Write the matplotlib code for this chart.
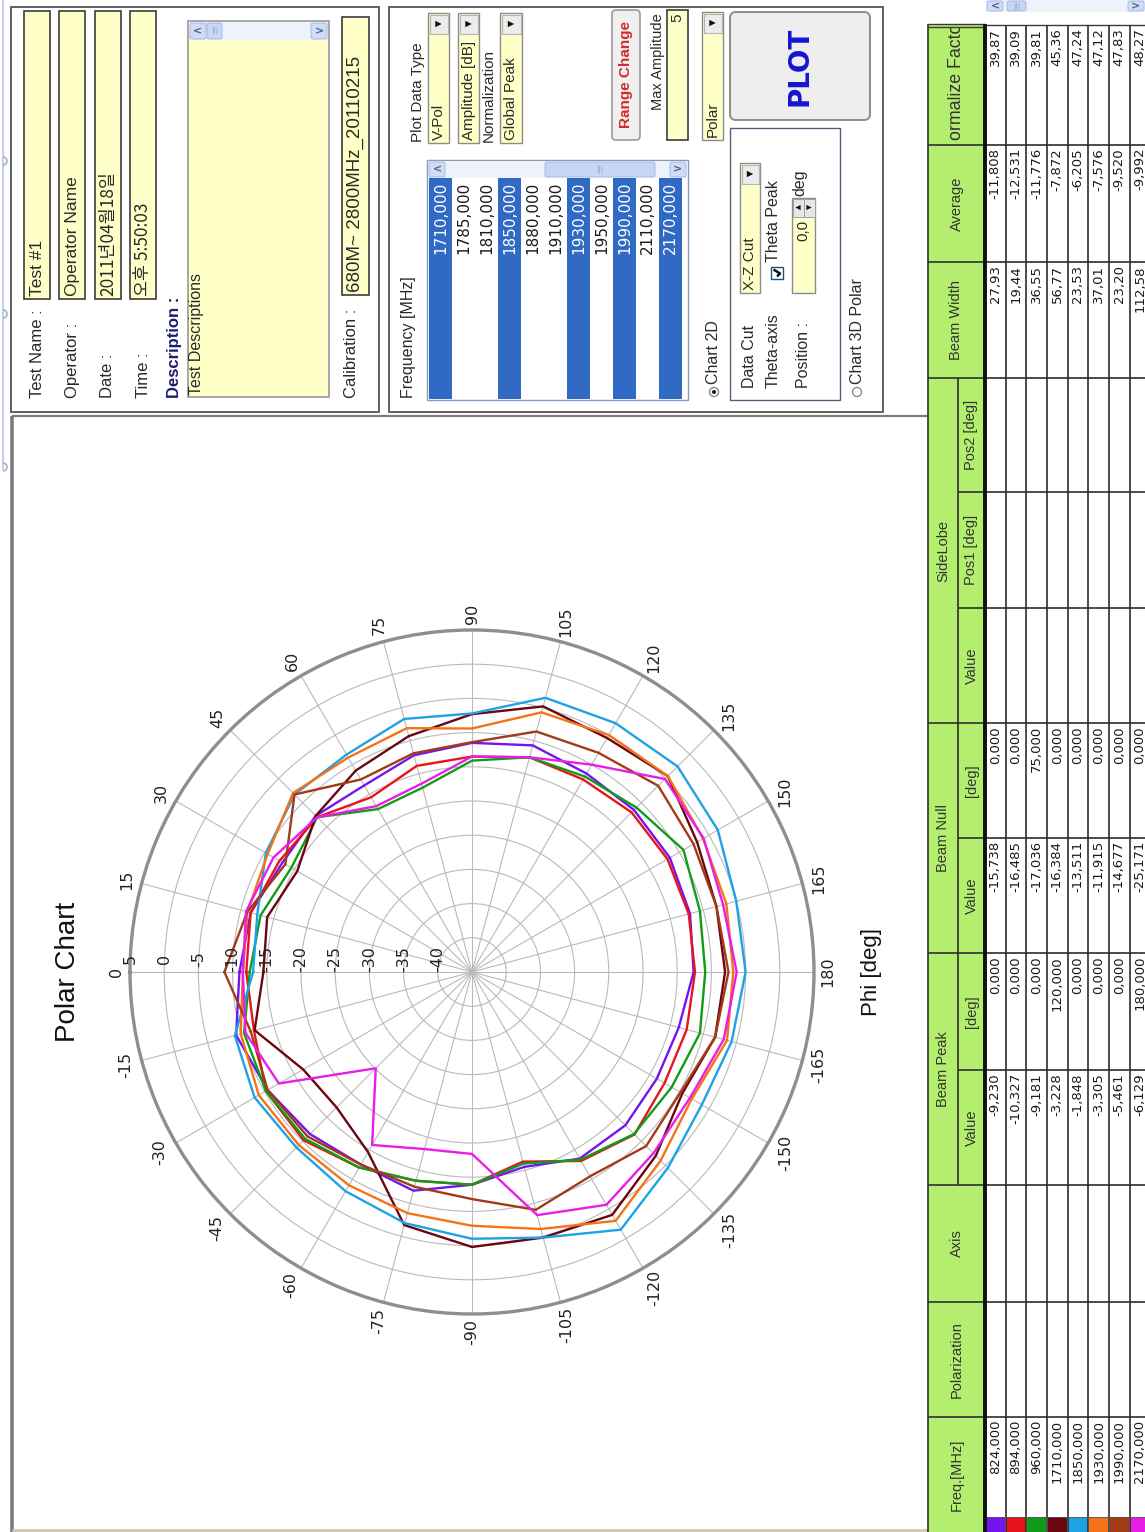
import numpy as np
import matplotlib.pyplot as plt
from matplotlib.patches import Rectangle, FancyBboxPatch, Circle, Polygon
from matplotlib.transforms import offset_copy, Bbox, TransformedBbox

# phi cut (deg) and the normalised amplitude of every frequency [dB]
angles = [0, 15, 30, 45, 60, 75, 90, 105, 120, 135, 150, 165, 180,
          -165, -150, -135, -120, -105, -90, -75, -60, -45, -30, -15]

amp_824 = [-11, -11.5, -13, -12.7, -13.5, -12.2, -11.5, -10.7, -11.5, -11.5, -11.6, -12, -12.6,
           -13.7, -13.8, -13.3, -13.5, -15.5, -13.9, -11.9, -12.5, -11.5, -10.5, -9.3]
amp_894 = [-12, -11.5, -12.5, -13, -15.5, -13.8, -13.5, -12.5, -12.5, -12, -12, -12.2, -12.4,
           -12.5, -12.5, -11.4, -13.1, -16.3, -13.9, -13.4, -12, -10.2, -10.2, -12]
amp_960 = [-12.5, -13, -14.5, -13, -17.5, -17.1, -14.1, -12.5, -12, -11, -9.3, -10.5, -10.9,
           -10.5, -11.3, -11.5, -13.3, -16, -13.9, -13.4, -12, -10.5, -10.2, -10.5]
amp_1710 = [-14.5, -14, -15.5, -12.7, -11, -9.3, -7.3, -4.8, -5.5, -4.5, -7, -8, -8,
            -8.2, -9.5, -7, -4, -4.8, -4.8, -6.7, -14.6, -17, -16.5, -12.1]
amp_1850 = [-13, -12.5, -10.2, -8.3, -8.3, -6.7, -7.2, -3.5, -3, -2.5, -3.5, -5, -5,
            -5.7, -6.2, -4.5, -1.5, -4.8, -6, -7, -8, -8.7, -8.3, -9.1]
amp_1930 = [-11.5, -11, -10.5, -8, -8.8, -8.1, -9.4, -5.7, -5, -4.5, -6, -6.5, -6.8,
            -6.4, -7.9, -6, -3, -6.1, -7.9, -8.5, -9, -9.2, -9, -10]
amp_1990 = [-8.8, -11, -13.5, -8.3, -12.5, -11.9, -11.4, -8.6, -8, -6.5, -7.6, -8, -7.5,
            -8.2, -9.8, -9, -10.5, -9, -11.8, -12.5, -12.5, -11, -10.5, -11.5]
amp_2170 = [-11.5, -10.8, -11.5, -13, -17, -16.5, -13.5, -12.5, -10, -5.1, -5.9, -7, -6.3,
            -6.9, -8.2, -7.5, -5.7, -8.2, -18.4, -18.2, -15.8, -25.1, -12.4, -10.7]

series = [amp_824, amp_894, amp_960, amp_1710, amp_1850, amp_1930, amp_1990, amp_2170]
colors = ['#7414f0', '#e8141c', '#109c18', '#6a0610', '#1ea2e6', '#f57218', '#a23a16', '#e81ee6']

r_ticks = [5, 0, -5, -10, -15, -20, -25, -30, -35, -40]

# result table
table_freq = [824, 894, 960, 1710, 1850, 1930, 1990, 2170]
peak_val = [-9.230, -10.327, -9.181, -3.228, -1.848, -3.305, -5.461, -6.129]
peak_deg = [0, 0, 0, 120, 0, 0, 0, 180]
null_val = [-15.738, -16.485, -17.036, -16.384, -13.511, -11.915, -14.677, -25.171]
null_deg = [0, 0, 75, 0, 0, 0, 0, 0]
beam_width = [27.93, 19.44, 36.55, 56.77, 23.53, 37.01, 23.20, 112.58]
average = [-11.808, -12.531, -11.776, -7.872, -6.205, -7.576, -9.520, -9.992]
norm_factor = [39.87, 39.09, 39.81, 45.36, 47.24, 47.12, 47.83, 48.27]

# frequency list box
list_freq = [1710, 1785, 1810, 1850, 1880, 1910, 1930, 1950, 1990, 2110, 2170]
list_sel = [1710, 1850, 1930, 1990, 2170]

W, H = 1145, 1532
NARROW = ['Liberation Sans Narrow', 'DejaVu Sans']
SANS = ['Liberation Sans', 'DejaVu Sans']
KR = ['Noto Sans CJK KR', 'DejaVu Sans']
YEL = '#ffffc8'
GREEN = '#b4ee6e'

fig = plt.figure(figsize=(W / 100, H / 100), dpi=100)
bg = fig.add_axes([0, 0, 1, 1])
bg.set_xlim(0, W)
bg.set_ylim(H, 0)
bg.set_autoscale_on(False)
bg.axis('off')


def comma(v, d):
    return f'{v:.{d}f}'.replace('.', ',')


def rect(x0, y0, x1, y1, fc='none', ec='#5a5a5a', lw=1.0, z=1):
    p = Rectangle((x0, y0), x1 - x0, y1 - y0, facecolor=fc, edgecolor=ec, linewidth=lw, zorder=z)
    bg.add_patch(p)
    return p


def rbox(x0, y0, x1, y1, fc, ec, lw=1.0, rs=5, z=1):
    bg.add_patch(FancyBboxPatch((x0, y0), x1 - x0, y1 - y0, boxstyle=f'round,pad=0,rounding_size={rs}',
                                facecolor=fc, edgecolor=ec, linewidth=lw, zorder=z))


def vtext(x, y, s, ha='left', size=10, family=SANS, color='#2a2a2a', weight='normal', z=6):
    return bg.text(x, y, s, rotation=90, rotation_mode='anchor', ha=ha, va='center',
                   fontsize=size, family=family, color=color, fontweight=weight, zorder=z)


def line(xs, ys, color='#5a5a5a', lw=1.0, z=3):
    bg.plot(xs, ys, color=color, lw=lw, zorder=z, solid_capstyle='butt')


def tri(cx, cy, right=True, s=3.2, z=5):
    d = s if right else -s
    bg.add_patch(Polygon([(cx - d, cy - s), (cx - d, cy + s), (cx + d, cy)], closed=True,
                         facecolor='#111111', edgecolor='none', zorder=z))


def dropdown(x0, x1, y0, y1, s, size=11):
    rect(x0, y0, x1, y1, fc=YEL, ec='#8c8c8c', lw=1.0)
    rect(x0 + 1.5, y0 + 1.5, x1 - 1.5, y0 + 21, fc='#ececec', ec='#b4b4b4', lw=0.8, z=2)
    tri((x0 + x1) / 2, y0 + 11)
    vtext((x0 + x1) / 2, y1 - 3, s, size=size)


def scrollbar_h(x0, x1, y0, y1, t0, t1):
    rect(x0, y0, x1, y1, fc='#eef2fb', ec='none', z=2)
    rbox(t0, y0 + 1, t1, y1 - 1, fc='#c6d6f6', ec='#9fb6e0', lw=0.6, rs=2, z=3)
    rbox(x0 + 1, y0 + 1, x0 + 17, y1 - 1, fc='#cfdcf4', ec='#9fb6e0', lw=0.6, rs=2, z=3)
    rbox(x1 - 17, y0 + 1, x1 - 1, y1 - 1, fc='#cfdcf4', ec='#9fb6e0', lw=0.6, rs=2, z=3)
    ym = (y0 + y1) / 2
    bg.text(x0 + 9, ym, '<', ha='center', va='center', fontsize=8, color='#4d6185', weight='bold', zorder=4)
    bg.text(x1 - 9, ym, '>', ha='center', va='center', fontsize=8, color='#4d6185', weight='bold', zorder=4)
    bg.text((t0 + t1) / 2, ym, '|||', ha='center', va='center', fontsize=5, color='#8da2c8', zorder=4)


# ---------------- window edge / frames ----------------
line([3, 3], [0, 470], color='#c3cfe0', lw=1.5)
for ty in [161, 314, 467]:
    a = np.linspace(-np.pi / 2, np.pi / 2, 12)
    line(3 + 4 * np.cos(a), ty + 4 * np.sin(a), color='#9fb0c8', lw=1.2)

rect(11, 7, 379, 412, ec='#606060', lw=1.4)
rect(389, 7, 883, 412, ec='#606060', lw=1.4)
line([12, 12], [416, 1532], color='#7c7c7c', lw=2.6)
line([12, 928], [416, 416], color='#7c7c7c', lw=1.6)
line([12, 928], [1530, 1530], color='#cfc9b6', lw=2.0)

# ---------------- info panel ----------------
field_x = [37, 72, 108, 143]
field_lab = ['Test Name :', 'Operator :', 'Date :', 'Time :']
field_val = ['Test #1', 'Operator Name', '2011년04월18일', '오후 5:50:03']
for fx, lab, val in zip(field_x, field_lab, field_val):
    vtext(fx, 398, lab, size=12)
    rect(fx - 13, 11, fx + 13, 299, fc=YEL, ec='#3c3c3c', lw=1.2)
    fam = KR if any(ord(ch) > 0x3000 for ch in val) else SANS
    vtext(fx, 296, val, size=12.5, family=fam)

vtext(174, 398, 'Description :', size=12, weight='bold', color='#1e1e6e')
rect(188, 21, 329, 397, fc=YEL, ec='#9a9a9a', lw=1.2)
scrollbar_h(189, 328, 22, 40, 207, 222)
vtext(196, 395, 'Test Descriptions', size=11.5)
vtext(352, 398, 'Calibration :', size=12)
rect(342, 17, 369, 295, fc=YEL, ec='#3c3c3c', lw=1.2)
vtext(355.5, 292, '680M~ 2800MHz_20110215', size=13.5)

# ---------------- plot settings panel ----------------
vtext(418, 142, 'Plot Data Type', size=11)
dropdown(428, 449, 13, 143, 'V-Pol')
dropdown(458, 479, 13, 143, 'Amplitude [dB]')
vtext(489, 142, 'Normalization', size=11)
dropdown(500, 522, 13, 143, 'Global Peak')

vtext(408, 398, 'Frequency [MHz]', size=11.5)
rect(427, 160, 688, 400, fc='white', ec='#7f9db9', lw=1.0)
scrollbar_h(428, 687, 161, 178, 545, 655)
item_w = 23.0
for k, f in enumerate(list_freq):
    x0 = 429 + k * item_w
    sel = f in list_sel
    if sel:
        rect(x0, 178, x0 + item_w, 399, fc='#316ac5', ec='none', z=2)
    vtext(x0 + item_w / 2, 182, comma(f, 3), ha='right', size=11, family=NARROW,
          color='white' if sel else '#1a1a1a')

rbox(612, 10, 640, 140, fc='#f0f0f0', ec='#9a9a9a', lw=1.2, rs=4)
vtext(626, 75, 'Range Change', ha='center', size=11, weight='bold', color='#d42a2a')
vtext(658, 110, 'Max Amplitude', size=10.5)
rect(667, 10, 688, 140, fc=YEL, ec='#3c3c3c', lw=1.2)
vtext(677.5, 13, '5', ha='right', size=11)
dropdown(702, 723, 12, 140, 'Polar')

rbox(730, 12, 870, 120, fc='#eeeeee', ec='#8c8c8c', lw=1.4, rs=6)
vtext(800, 66, 'PLOT', ha='center', size=20, family=['DejaVu Sans'], weight='heavy', color='#1414d2')

bg.add_patch(Circle((714, 392), 4.5, facecolor='white', edgecolor='#808080', lw=0.9, zorder=4))
bg.add_patch(Circle((714, 392), 2.0, facecolor='#1a1a1a', edgecolor='none', zorder=5))
vtext(714, 384, 'Chart 2D', size=11.5)

rect(730, 128, 840, 400, ec='#5a5a78', lw=1.0)
vtext(750, 388, 'Data Cut', size=11.5)
dropdown(740, 760, 163, 293, 'X-Z Cut')
vtext(773, 388, 'Theta-axis', size=11.5)
rect(771, 267, 783, 279, fc='white', ec='#1c5180', lw=1.0, z=3)
line([777, 780, 773.5], [276.5, 273.5, 269.5], color='#111111', lw=1.8, z=4)
vtext(773, 262, 'Theta Peak', size=11.5)
vtext(803, 388, 'Position :', size=11.5)
rect(792, 198, 815, 293, fc=YEL, ec='#8c8c8c', lw=1.0)
rect(792.5, 198.5, 803.5, 217, fc='#e6e6e6', ec='#a0a0a0', lw=0.7, z=2)
rect(803.5, 198.5, 814.5, 217, fc='#e6e6e6', ec='#a0a0a0', lw=0.7, z=2)
tri(798, 207.5, right=False, s=2.6)
tri(809, 207.5, right=True, s=2.6)
vtext(803.5, 220, '0,0', ha='right', size=11)
vtext(800, 196, 'deg', size=11.5)

bg.add_patch(Circle((857, 392), 4.5, facecolor='white', edgecolor='#808080', lw=0.9, zorder=4))
vtext(857, 384, 'Chart 3D Polar', size=11.5)

# ---------------- result table ----------------
tx0, tsplit, thead = 928, 958, 985
row_w = 20.65
edges = [25, 145, 262, 378, 492, 608, 723, 838, 953, 1070, 1185, 1302, 1417, 1532]
inner_edges = [492, 608, 838, 1070]

rect(tx0, 25, thead, 1532, fc=GREEN, ec='none', z=1)
scrollbar_h(986, W, 0, 12, 1007, 1026)
line([tx0, thead], [24, 24], color='#3a3a3a', lw=1.0)
line([tx0, thead], [27, 27], color='#3a3a3a', lw=1.0)
line([thead, W], [25, 25], color='#3a3a3a', lw=1.0)
for e in edges[1:-1]:
    x_start = tsplit if e in inner_edges else tx0
    line([x_start, W], [e, e], color='#2e2e2e', lw=1.2)
for g0, g1 in [(378, 723), (723, 953), (953, 1185)]:
    line([tsplit, tsplit], [g0, g1], color='#2e2e2e', lw=1.2)
for k in range(1, 9):
    xk = thead + k * row_w
    line([xk, xk], [25, 1532], color='#2e2e2e', lw=1.2)
line([tx0, tx0], [24, 1532], color='#2e2e2e', lw=1.2)
line([thead, thead], [24, 1532], color='#111111', lw=2.8, z=4)

single_heads = [('Average', 145, 262), ('Beam Width', 262, 378), ('Axis', 1185, 1302),
                ('Polarization', 1302, 1417), ('Freq.[MHz]', 1417, 1532)]
for s, a0, a1 in single_heads:
    vtext((tx0 + thead) / 2, (a0 + a1) / 2, s, ha='center', size=10.5, color='#333333')
t = vtext((tx0 + thead) / 2, 85, 'Normalize Factor', ha='center', size=12.8, color='#333333')
t.set_clip_box(TransformedBbox(Bbox([[tx0, 28], [thead, 142]]), bg.transData))
t.set_clip_on(True)
for s, a0, a1 in [('SideLobe', 378, 723), ('Beam Null', 723, 953), ('Beam Peak', 953, 1185)]:
    vtext((tx0 + tsplit) / 2, (a0 + a1) / 2, s, ha='center', size=10.5, color='#333333')
sub_heads = [('Pos2 [deg]', 378, 492), ('Pos1 [deg]', 492, 608), ('Value', 608, 723),
             ('[deg]', 723, 838), ('Value', 838, 953), ('[deg]', 953, 1070), ('Value', 1070, 1185)]
for s, a0, a1 in sub_heads:
    vtext((tsplit + thead) / 2, (a0 + a1) / 2, s, ha='center', size=10.5, color='#333333')

table_cols = [(25, [comma(v, 2) for v in norm_factor]),
              (145, [comma(v, 3) for v in average]),
              (262, [comma(v, 2) for v in beam_width]),
              (723, [comma(v, 3) for v in null_deg]),
              (838, [comma(v, 3) for v in null_val]),
              (953, [comma(v, 3) for v in peak_deg]),
              (1070, [comma(v, 3) for v in peak_val]),
              (1417, [comma(v, 3) for v in table_freq])]
for i in range(len(table_freq)):
    xc = thead + (i + 0.5) * row_w
    for top, vals in table_cols:
        vtext(xc, top + 3, vals[i], ha='right', size=9.5, family=NARROW, color='#1a1a1a')
    rect(thead + i * row_w + 0.6, 1517, thead + (i + 1) * row_w - 0.6, 1532, fc=colors[i], ec='none', z=2)
line([thead, W], [1517, 1517], color='#555555', lw=0.6)

# ---------------- polar chart ----------------
vtext(68, 972, 'Polar Chart', ha='center', size=20, color='#111111')
vtext(871, 972, 'Phi [deg]', ha='center', size=16, color='#111111')

cx, cy, R = 472, 972, 342
pax = fig.add_axes([(cx - R) / W, (H - cy - R) / H, 2 * R / W, 2 * R / H], projection='polar')
pax.set_theta_zero_location('W')
pax.set_theta_direction(-1)
pax.set_ylim(-45, 5)
pax.set_xticks(np.deg2rad(np.arange(0, 360, 15)))
pax.set_xticklabels([])
pax.set_yticks(np.arange(-40, 5, 5))
pax.set_yticklabels([])
pax.tick_params(length=0)
pax.grid(True, color='#b9b9b9', lw=0.8)
pax.spines['polar'].set_color('#8e8e8e')
pax.spines['polar'].set_linewidth(2.4)

th = np.deg2rad(angles + angles[:1])
for vals, c in zip(series, colors):
    pax.plot(th, vals + vals[:1], color=c, lw=1.7)

for a in range(0, 360, 15):
    lab = str(a if a <= 180 else a - 360)
    s = np.deg2rad(180 - a)
    L = 7.8 * len(lab.replace('-', '')) + (4.5 if lab.startswith('-') else 0)
    half = abs(np.cos(s)) * 6 + abs(np.sin(s)) * L / 2
    d = 8 + half
    tr = offset_copy(pax.transData, fig=fig, x=d * np.cos(s), y=d * np.sin(s), units='dots')
    pax.text(np.deg2rad(a), 5, lab, transform=tr, rotation=90, rotation_mode='anchor',
             ha='center', va='center', fontsize=11.5, family=NARROW, color='#222222')

tr = offset_copy(pax.transData, fig=fig, x=0, y=13, units='dots')
for rv in r_ticks:
    pax.text(0, rv, str(rv), transform=tr, rotation=90, rotation_mode='anchor',
             ha='center', va='center', fontsize=11.5, family=NARROW, color='#222222')

bg.set_xlim(0, W)
bg.set_ylim(H, 0)
fig.savefig('out.png', dpi=100)
